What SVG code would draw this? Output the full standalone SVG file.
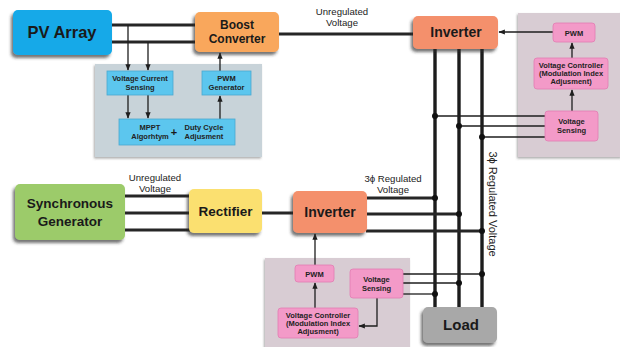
<svg xmlns="http://www.w3.org/2000/svg" width="620" height="347" viewBox="0 0 620 347">
  <defs>
    <filter id="shadow" x="-20%" y="-20%" width="140%" height="160%">
      <feDropShadow dx="-2" dy="3" stdDeviation="1.6" flood-color="#2a2a2a" flood-opacity="0.65"/>
    </filter>
    <filter id="soft" x="-10%" y="-10%" width="120%" height="130%">
      <feDropShadow dx="-1" dy="1.5" stdDeviation="1" flood-color="#555" flood-opacity="0.5"/>
    </filter>
    <marker id="arr" viewBox="0 0 10 10" refX="9" refY="5" markerWidth="5" markerHeight="5" orient="auto">
      <path d="M0,1 L10,5 L0,9 Z" fill="#1e1e1e"/>
    </marker>
    <style>
      text { font-family: "Liberation Sans", Arial, sans-serif; fill: #1a1a1a; text-anchor: middle; }
      .big { font-weight: bold; }
      .lbl { font-size: 9.6px; fill: #222; }
      .vlbl { font-size: 11px; fill: #222; }
      .sm { font-size: 7.5px; font-weight: bold; fill: #222; }
      .bus { stroke: #262626; stroke-width: 3; fill: none; }
      .vbus { stroke: #1c1c1c; stroke-width: 3.4; fill: none; }
      .sig { stroke: #1e1e1e; stroke-width: 1.3; fill: none; }
      .dot { fill: #111; }
      .blue { fill: #5cc6ee; stroke: #4aa9d0; stroke-width: 0.8; }
      .pink { fill: #f39ac8; stroke: #e27cb2; stroke-width: 0.8; }
    </style>
  </defs>

  <rect width="620" height="347" fill="#ffffff"/>

  <!-- control panels -->
  <g id="mppt-panel">
    <rect x="95" y="64" width="167" height="93" fill="#c8d3d9" filter="url(#soft)"/>
  </g>
  <g id="top-control-panel">
    <rect x="518" y="13" width="104" height="144" fill="#d8ccd3" filter="url(#soft)"/>
  </g>
  <g id="bottom-control-panel">
    <rect x="265" y="258" width="145" height="92" fill="#d8ccd3" filter="url(#soft)"/>
  </g>

  <!-- connectors -->
  <g id="connectors">
    <!-- PV array to boost converter -->
    <line class="bus" x1="110" y1="25" x2="196" y2="25"/>
    <line class="bus" x1="110" y1="42" x2="196" y2="42"/>
    <!-- boost converter to inverter -->
    <line class="bus" x1="278" y1="34" x2="414" y2="34"/>
    <!-- generator to rectifier -->
    <line class="bus" x1="124" y1="196" x2="190" y2="196"/>
    <line class="bus" x1="124" y1="213" x2="190" y2="213"/>
    <line class="bus" x1="124" y1="230" x2="190" y2="230"/>
    <!-- rectifier to inverter -->
    <line class="bus" x1="261" y1="213" x2="294" y2="213"/>
    <!-- three-phase output buses -->
    <line class="vbus" x1="435" y1="48" x2="435" y2="308"/>
    <line class="vbus" x1="459" y1="48" x2="459" y2="308"/>
    <line class="vbus" x1="482" y1="48" x2="482" y2="308"/>
    <!-- lower inverter outputs -->
    <line class="bus" x1="366" y1="198" x2="435" y2="198"/>
    <line class="bus" x1="366" y1="214" x2="459" y2="214"/>
    <line class="bus" x1="366" y1="231" x2="482" y2="231"/>
    <circle class="dot" cx="435" cy="198" r="3"/>
    <circle class="dot" cx="459" cy="214" r="3"/>
    <circle class="dot" cx="482" cy="231" r="3"/>

    <!-- MPPT sensing -->
    <line class="sig" x1="128" y1="25" x2="128" y2="70" marker-end="url(#arr)"/>
    <line class="sig" x1="148" y1="42" x2="148" y2="70" marker-end="url(#arr)"/>
    <line class="sig" x1="128" y1="95" x2="128" y2="118" marker-end="url(#arr)"/>
    <line class="sig" x1="148" y1="95" x2="148" y2="118" marker-end="url(#arr)"/>
    <line class="sig" x1="220" y1="119" x2="220" y2="96" marker-end="url(#arr)"/>
    <line class="sig" x1="220" y1="71" x2="220" y2="53" marker-end="url(#arr)"/>

    <!-- top inverter control -->
    <line class="sig" x1="553" y1="32" x2="499" y2="32" marker-end="url(#arr)"/>
    <line class="sig" x1="572" y1="58" x2="572" y2="43" marker-end="url(#arr)"/>
    <line class="sig" x1="572" y1="111" x2="572" y2="90" marker-end="url(#arr)"/>
    <line class="sig" x1="435" y1="116" x2="545" y2="116"/>
    <line class="sig" x1="459" y1="126" x2="545" y2="126"/>
    <line class="sig" x1="482" y1="137" x2="545" y2="137"/>
    <circle class="dot" cx="435" cy="116" r="3"/>
    <circle class="dot" cx="459" cy="126" r="3"/>
    <circle class="dot" cx="482" cy="137" r="3"/>

    <!-- bottom inverter control -->
    <line class="sig" x1="315" y1="265" x2="315" y2="234" marker-end="url(#arr)"/>
    <line class="sig" x1="315" y1="308" x2="315" y2="283" marker-end="url(#arr)"/>
    <polyline class="sig" points="377,298 377,326 359,326" marker-end="url(#arr)"/>
    <line class="sig" x1="403" y1="274" x2="482" y2="274"/>
    <line class="sig" x1="403" y1="283" x2="459" y2="283"/>
    <line class="sig" x1="403" y1="294" x2="435" y2="294"/>
    <circle class="dot" cx="482" cy="274" r="3"/>
    <circle class="dot" cx="459" cy="283" r="3"/>
    <circle class="dot" cx="435" cy="294" r="3"/>
  </g>

  <!-- connector labels -->
  <g id="labels">
    <text class="lbl" x="342" y="15">Unregulated</text>
    <text class="lbl" x="342" y="26">Voltage</text>
    <text class="lbl" x="155" y="181">Unregulated</text>
    <text class="lbl" x="155" y="192">Voltage</text>
    <text class="lbl" x="393" y="182">3ϕ Regulated</text>
    <text class="lbl" x="393" y="193">Voltage</text>
    <text class="vlbl" transform="translate(489,204) rotate(90)">3ϕ Regulated Voltage</text>
  </g>

  <!-- nodes -->
  <g id="pv-array">
    <rect x="13" y="10" width="99" height="45" rx="5" fill="#12a9e8" filter="url(#shadow)"/>
    <text class="big" x="62" y="38" font-size="16.5">PV Array</text>
  </g>
  <g id="boost-converter">
    <rect x="195" y="12" width="84" height="40" rx="5" fill="#f9a75c" filter="url(#shadow)"/>
    <text class="big" x="237" y="29" font-size="12">Boost</text>
    <text class="big" x="237" y="43" font-size="12">Converter</text>
  </g>
  <g id="inverter-top">
    <rect x="413" y="16" width="85" height="33" rx="5" fill="#f4906c" filter="url(#shadow)"/>
    <text class="big" x="456" y="37" font-size="14">Inverter</text>
  </g>
  <g id="synchronous-generator">
    <rect x="15" y="184" width="110" height="56" rx="5" fill="#9ccb6a" filter="url(#shadow)"/>
    <text class="big" x="70" y="208" font-size="13.5">Synchronous</text>
    <text class="big" x="70" y="226" font-size="13.5">Generator</text>
  </g>
  <g id="rectifier">
    <rect x="189" y="189" width="73" height="44" rx="5" fill="#fbe06f" filter="url(#shadow)"/>
    <text class="big" x="225.5" y="216" font-size="13.5">Rectifier</text>
  </g>
  <g id="inverter-bottom">
    <rect x="293" y="191" width="74" height="42" rx="5" fill="#f4906c" filter="url(#shadow)"/>
    <text class="big" x="330" y="217" font-size="14">Inverter</text>
  </g>
  <g id="load">
    <rect x="423" y="307" width="74" height="36" rx="5" fill="#a8a8a8" filter="url(#shadow)"/>
    <text class="big" x="461" y="330" font-size="15">Load</text>
  </g>

  <!-- MPPT control blocks -->
  <g id="voltage-current-sensing">
    <rect class="blue" x="107" y="71" width="66" height="24"/>
    <text class="sm" x="140" y="81">Voltage Current</text>
    <text class="sm" x="140" y="89.5">Sensing</text>
  </g>
  <g id="pwm-generator">
    <rect class="blue" x="202" y="71" width="49" height="24"/>
    <text class="sm" x="226.5" y="81">PWM</text>
    <text class="sm" x="226.5" y="89.5">Generator</text>
  </g>
  <g id="mppt-duty-cycle">
    <rect class="blue" x="119" y="119" width="116" height="26"/>
    <text class="sm" x="150" y="130">MPPT</text>
    <text class="sm" x="150" y="139">Algorhtym</text>
    <text x="174" y="136" font-size="11" font-weight="bold">+</text>
    <text class="sm" x="204" y="130">Duty Cycle</text>
    <text class="sm" x="204" y="139">Adjusment</text>
  </g>

  <!-- top inverter control blocks -->
  <g id="pwm-top">
    <rect class="pink" x="553" y="23" width="42" height="19" rx="3"/>
    <text class="sm" x="574" y="35.5" font-size="8.2">PWM</text>
  </g>
  <g id="voltage-controller-top">
    <rect class="pink" x="534" y="58" width="74" height="31" rx="3"/>
    <text class="sm" x="571" y="68" font-size="6.7">Voltage Controller</text>
    <text class="sm" x="571" y="76" font-size="6.7">(Modulation Index</text>
    <text class="sm" x="571" y="84" font-size="6.7">Adjusment)</text>
  </g>
  <g id="voltage-sensing-top">
    <rect class="pink" x="545" y="111" width="53" height="30" rx="3"/>
    <text class="sm" x="571.5" y="124" font-size="8.3">Voltage</text>
    <text class="sm" x="571.5" y="132.5" font-size="8.3">Sensing</text>
  </g>

  <!-- bottom inverter control blocks -->
  <g id="pwm-bottom">
    <rect class="pink" x="295" y="265" width="39" height="17" rx="3"/>
    <text class="sm" x="314.5" y="276.5" font-size="8.2">PWM</text>
  </g>
  <g id="voltage-sensing-bottom">
    <rect class="pink" x="350" y="269" width="53" height="29" rx="3"/>
    <text class="sm" x="376.5" y="282" font-size="8.3">Voltage</text>
    <text class="sm" x="376.5" y="290.5" font-size="8.3">Sensing</text>
  </g>
  <g id="voltage-controller-bottom">
    <rect class="pink" x="278" y="308" width="80" height="30" rx="3"/>
    <text class="sm" x="318" y="318" font-size="6.9">Voltage Controller</text>
    <text class="sm" x="318" y="326" font-size="6.9">(Modulation Index</text>
    <text class="sm" x="318" y="334" font-size="6.9">Adjusment)</text>
  </g>
</svg>
